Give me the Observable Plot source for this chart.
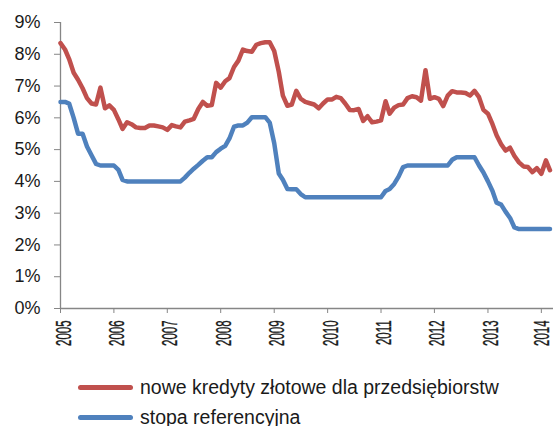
<!DOCTYPE html>
<html>
<head>
<meta charset="utf-8">
<script src="https://cdn.jsdelivr.net/npm/d3@7"></script>
<script src="https://cdn.jsdelivr.net/npm/@observablehq/plot@0.6"></script>
<style>
  body { margin: 0; background: #fff; font-family: "Liberation Sans", Arial, sans-serif; }
  #chart svg { display: block; }
  #legend { padding-top: 10px; }
  .row { display: flex; align-items: center; height: 30px; margin-left: 78px; font-size: 19.5px; color: #1a1a1a; }
  .sw { width: 55px; height: 5px; border-radius: 3px; margin-right: 7px; }
</style>
</head>
<body>
<div id="chart"></div>
<div id="legend"></div>
<script>
// monthly data, Jan 2005 .. Mar 2014
const startYear = 2005;
const seriesNames = ["nowe kredyty złotowe dla przedsiębiorstw", "stopa referencyjna"];
const seriesColors = ["#C0504D", "#4F81BD"];

const kredyty = [
  8.35, 8.15, 7.85, 7.42, 7.2, 6.93, 6.62, 6.45, 6.42, 6.95, 6.3, 6.39,
  6.25, 5.95, 5.65, 5.86, 5.8, 5.7, 5.68, 5.68, 5.76, 5.76, 5.73, 5.7,
  5.62, 5.77, 5.73, 5.7, 5.88, 5.92, 5.97, 6.28, 6.5, 6.38, 6.4, 7.1,
  6.95, 7.15, 7.25, 7.6, 7.8, 8.15, 8.1, 8.08, 8.3, 8.35, 8.38, 8.38,
  8.1, 7.45, 6.7, 6.38, 6.42, 6.85, 6.6, 6.5, 6.46, 6.42, 6.3, 6.45,
  6.58, 6.58, 6.66, 6.62, 6.45, 6.25, 6.24, 6.28, 5.9, 6.05, 5.86, 5.88,
  5.92, 6.52, 6.13, 6.32, 6.4, 6.42, 6.62, 6.68, 6.65, 6.54, 7.5, 6.6,
  6.65, 6.6, 6.37, 6.7, 6.84, 6.8, 6.8, 6.78, 6.7, 6.85, 6.65, 6.25,
  6.13, 5.8, 5.45, 5.17, 4.97, 5.06, 4.8, 4.6, 4.47, 4.45, 4.29, 4.42,
  4.24, 4.66, 4.35
];

const stopa = [
  6.5, 6.5, 6.45, 6.0, 5.5, 5.5, 5.1, 4.82, 4.55, 4.5, 4.5, 4.5,
  4.5, 4.36, 4.05, 4.0, 4.0, 4.0, 4.0, 4.0, 4.0, 4.0, 4.0, 4.0,
  4.0, 4.0, 4.0, 4.0, 4.12, 4.27, 4.4, 4.52, 4.65, 4.76, 4.76, 4.92,
  5.03, 5.12, 5.35, 5.72, 5.76, 5.76, 5.85, 6.02, 6.02, 6.02, 6.02, 5.85,
  5.2, 4.25, 4.05, 3.76, 3.75, 3.75, 3.6, 3.5, 3.5, 3.5, 3.5, 3.5,
  3.5, 3.5, 3.5, 3.5, 3.5, 3.5, 3.5, 3.5, 3.5, 3.5, 3.5, 3.5,
  3.5, 3.7, 3.76, 3.92, 4.15, 4.45, 4.5, 4.5, 4.5, 4.5, 4.5, 4.5,
  4.5, 4.5, 4.5, 4.5, 4.68, 4.76, 4.76, 4.76, 4.76, 4.76, 4.5, 4.28,
  4.0, 3.7, 3.33, 3.27, 3.05, 2.85, 2.55, 2.5, 2.5, 2.5, 2.5, 2.5,
  2.5, 2.5, 2.5
];

const yTicks = [0, 1, 2, 3, 4, 5, 6, 7, 8, 9];
const xTickYears = [2005, 2006, 2007, 2008, 2009, 2010, 2011, 2012, 2013, 2014];

const data = kredyty.map((v, i) => ({
  date: new Date(startYear, i, 1),
  kredyty: v,
  stopa: stopa[i]
}));

const axisGray = "#868686";
const x0 = new Date(2005, 0, 1);

const chart = Plot.plot({
  width: 553,
  height: 362,
  marginLeft: 60,
  marginRight: 0,
  marginTop: 22,
  marginBottom: 54,
  style: { fontFamily: "'Liberation Sans', Arial, sans-serif", background: "#fff", overflow: "visible" },
  x: { type: "time", domain: [x0, new Date(2014, 2, 25)] },
  y: { domain: [0, 9] },
  marks: [
    Plot.ruleX([x0], { y1: 0, y2: 9, stroke: axisGray, strokeWidth: 1.3 }),
    Plot.ruleY([0], { stroke: axisGray, strokeWidth: 1.3 }),
    Plot.axisY({
      ticks: yTicks, tickFormat: d => d + "%", tickSize: 6, tickPadding: 14,
      fontSize: 18, stroke: axisGray, fill: "#1a1a1a", label: null
    }),
    Plot.axisX({
      ticks: xTickYears.map(y => new Date(y, 0, 1)), tickFormat: d => String(d.getFullYear()),
      tickSize: 5, tickPadding: 7, tickRotate: -90, fontSize: 22,
      stroke: axisGray, fill: "#1a1a1a", label: null
    }),
    Plot.line(data, { x: "date", y: "kredyty", stroke: seriesColors[0], strokeWidth: 4.5, strokeLinejoin: "round", strokeLinecap: "round" }),
    Plot.line(data, { x: "date", y: "stopa", stroke: seriesColors[1], strokeWidth: 4.5, strokeLinejoin: "round", strokeLinecap: "round" })
  ]
});

// compress the rotated year labels along their length (tall, narrow look of the original)
const labels = d3.select(chart).selectAll('g[aria-label="x-axis tick label"] text');
const nLabels = labels.size();
labels.each(function (d, i) {
  const t = this.getAttribute("transform") || "";
  const shift = i === nLabels - 1 ? 0.5 : 3;
  this.setAttribute("transform", t + ` translate(0,${shift}) scale(0.52,1)`);
  this.setAttribute("stroke", "#1a1a1a");
  this.setAttribute("stroke-width", "0.35");
});

document.getElementById("chart").appendChild(chart);

const legend = document.getElementById("legend");
seriesNames.forEach((name, i) => {
  const row = document.createElement("div");
  row.className = "row";
  const sw = document.createElement("div");
  sw.className = "sw";
  sw.style.background = seriesColors[i];
  const label = document.createElement("span");
  label.textContent = name;
  row.appendChild(sw);
  row.appendChild(label);
  legend.appendChild(row);
});
</script>
</body>
</html>
